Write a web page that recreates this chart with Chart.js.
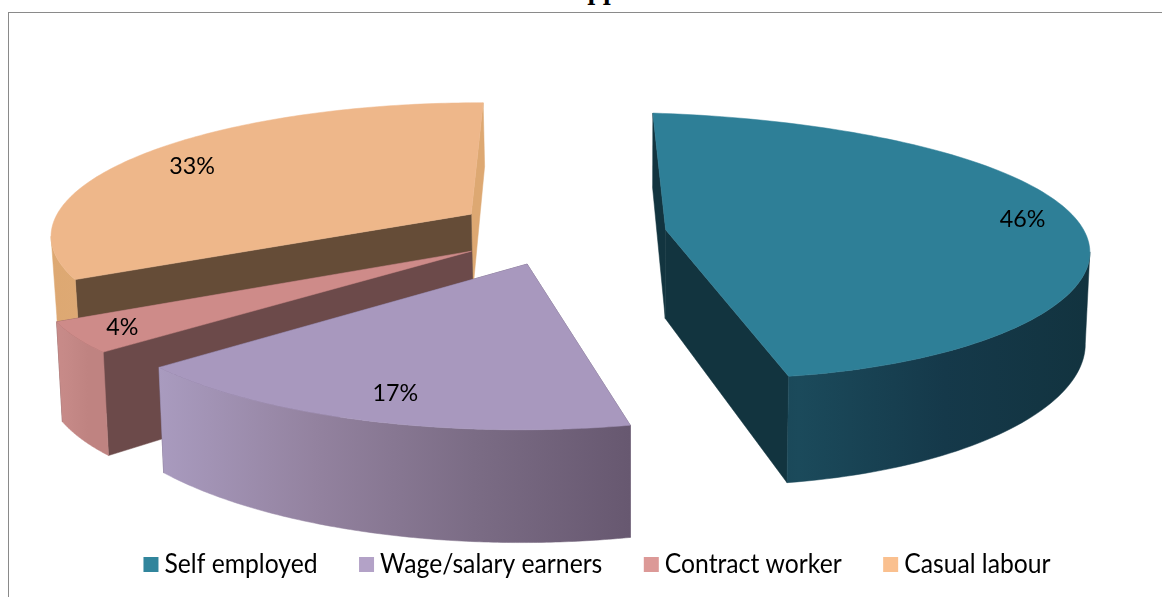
<!DOCTYPE html>
<html><head><meta charset="utf-8">
<script src="https://cdn.jsdelivr.net/npm/chart.js@4"></script>
<style>
html,body{margin:0;padding:0;background:#fff;overflow:hidden;width:1162px;height:597px}
#frame{position:absolute;left:8px;top:12px;width:1200px;height:700px;border-left:1.5px solid #8a8a8a;border-top:1.5px solid #8a8a8a}
#title{position:absolute;left:391px;width:400px;top:0;height:12px;overflow:hidden;text-align:center;color:#000;white-space:nowrap}
#title span{position:relative;top:-22px;display:block;font:bold 22px/28px "DejaVu Serif",serif}
canvas{position:absolute;left:0;top:0}
</style></head><body>
<div id="frame"></div>
<div id="title"><span>of the applicant</span></div>
<canvas id="c" width="1162" height="597"></canvas>
<script>
const categories = ['Self employed', 'Wage/salary earners', 'Contract worker', 'Casual labour'];
const shares = [46, 17, 4, 33];
const explosion = [108, 130, 111, 100];

const topColors = ['#2E7F97', '#A898BE', '#CE8B89', '#EEB78A'];
const legendColors = ['#31859C', '#B3A2C7', '#DC9997', '#FAC08F'];
const faceColors = [['#12343F', '#12343F'], ['#5F5068', '#5F5068'], ['#6C4A4A', '#6C4A4A'], ['#654C37', '#DDA872']];
const wallStops = [
  ['#153B49', '#1B4A5B', '#15394A', '#12333F'],
  ['#A99BBF', '#93829F', '#7B6C85', '#675870'],
  ['#C88B89', '#C48886', '#BF8381', '#BF8381'],
  ['#DDA872', '#E0AD7C', '#E0AD7C', '#E0AD7C']
];
const radiusX = [424, 435, 416, 411];
const radiusY = [130, 142, 128, 127];
const skew = [-1.5, -35, -54, -28];
const tilt = [18, 11, 0, 5];
const lift = [5, -5, 0, -1];
const depthBase = [90, 90, 90, 80];
const perspectiveX = [0.04, 0.141, 0.141, 0.141];
const perspectiveY = [0.12, 0.141, 0.141, 0.141];
const labelReach = [0.84, 0.88, 0.93, 0.76];
const labelNudge = [[7, -8], [9, -6], [16, -4], [-28, -1]];
const drawOrder = [3, 2, 1, 0];
const squash = 0.31;

function local(i, a, ax, ay, r) {
  const u = Math.cos(a) * r, v = Math.sin(a) * r;
  const s = 1 / (1 - perspectiveY[i] * v), sx = 1 / (1 - perspectiveX[i] * v);
  return [ax + (u * radiusX[i] + skew[i] * v) * sx, ay + (v * radiusY[i] + tilt[i] * u) * s];
}
function drop(i, p) {
  return [p[0] - (p[0] - 630) * 0.01, p[1] + depthBase[i] + (p[1] - 240) * 0.12];
}
function poly(ctx, pts, fill) {
  ctx.beginPath();
  pts.forEach((p, k) => k ? ctx.lineTo(p[0], p[1]) : ctx.moveTo(p[0], p[1]));
  ctx.closePath();
  ctx.fillStyle = fill;
  ctx.strokeStyle = fill;
  ctx.lineWidth = 0.5;
  ctx.fill();
  ctx.stroke();
}
function narrowText(ctx, text, x, y, sx) {
  ctx.save();
  ctx.translate(x, y);
  ctx.scale(sx, 1);
  ctx.fillText(text, 0, 0);
  ctx.restore();
}
const pie3d = {
  id: 'pie3d',
  beforeDatasetDraw(chart) {
    const ctx = chart.ctx, arcs = chart.getDatasetMeta(0).data;
    ctx.save();
    drawOrder.forEach(i => {
      const el = arcs[i], a0 = el.startAngle, a1 = el.endAngle, mid = (a0 + a1) / 2, e = el.options.offset;
      const ax = el.x + e * Math.cos(mid), ay = el.y + e * squash * Math.sin(mid) + lift[i];
      const apex = [ax, ay];
      const rim = [];
      const n = 120;
      for (let k = 0; k <= n; k++) rim.push(local(i, a0 + (a1 - a0) * k / n, ax, ay, 1));
      const first = rim[0], last = rim[n];
      poly(ctx, [apex, last, drop(i, last), drop(i, apex)], faceColors[i][1]);
      poly(ctx, [apex, first, drop(i, first), drop(i, apex)], faceColors[i][0]);
      // the visible outer wall is the stretch of rim that runs right to left
      const front = rim.filter((p, k) => (k < n && rim[k + 1][0] < p[0]) || (k > 0 && rim[k - 1][0] > p[0]));
      const xs = rim.map(p => p[0]);
      const g = ctx.createLinearGradient(Math.min(...xs), 0, Math.max(...xs), 0);
      wallStops[i].forEach((c, k) => g.addColorStop(k / (wallStops[i].length - 1), c));
      poly(ctx, front.concat(front.map(p => drop(i, p)).reverse()), g);
      poly(ctx, [apex].concat(rim), topColors[i]);
    });
    ctx.font = '24px Lato';
    ctx.textAlign = 'center';
    ctx.textBaseline = 'middle';
    ctx.fillStyle = '#000';
    drawOrder.forEach(i => {
      const el = arcs[i], mid = (el.startAngle + el.endAngle) / 2, e = el.options.offset;
      const ax = el.x + e * Math.cos(mid), ay = el.y + e * squash * Math.sin(mid) + lift[i];
      const p = local(i, mid, ax, ay, labelReach[i]);
      narrowText(ctx, shares[i] + '%', p[0] + labelNudge[i][0], p[1] + labelNudge[i][1], 0.97);
    });
    ctx.restore();
    return false;
  },
  afterDraw(chart) {
    const ctx = chart.ctx;
    ctx.save();
    ctx.font = '26px Lato';
    ctx.textBaseline = 'middle';
    const box = 15, gapText = 6, gapItem = 41.5, sx = 0.95;
    const widths = categories.map(t => ctx.measureText(t).width * sx);
    const total = widths.reduce((s, w) => s + w + box + gapText, 0) + gapItem * (categories.length - 1);
    let x = 597 - total / 2;
    categories.forEach((t, i) => {
      ctx.fillStyle = legendColors[i];
      ctx.fillRect(x, 557, box, box);
      ctx.fillStyle = '#000';
      narrowText(ctx, t, x + box + gapText, 565, sx);
      x += box + gapText + widths[i] + gapItem;
    });
    ctx.restore();
  }
};
new Chart(document.getElementById('c'), {
  type: 'pie',
  data: { labels: categories, datasets: [{ data: shares, backgroundColor: topColors, offset: explosion, borderWidth: 0 }] },
  options: {
    responsive: false, animation: false, rotation: -2,
    layout: { padding: { left: 0, right: 44, top: 0, bottom: 137 } },
    plugins: { legend: { display: false }, tooltip: { enabled: false } }
  },
  plugins: [pie3d]
});
</script>
</body></html>
